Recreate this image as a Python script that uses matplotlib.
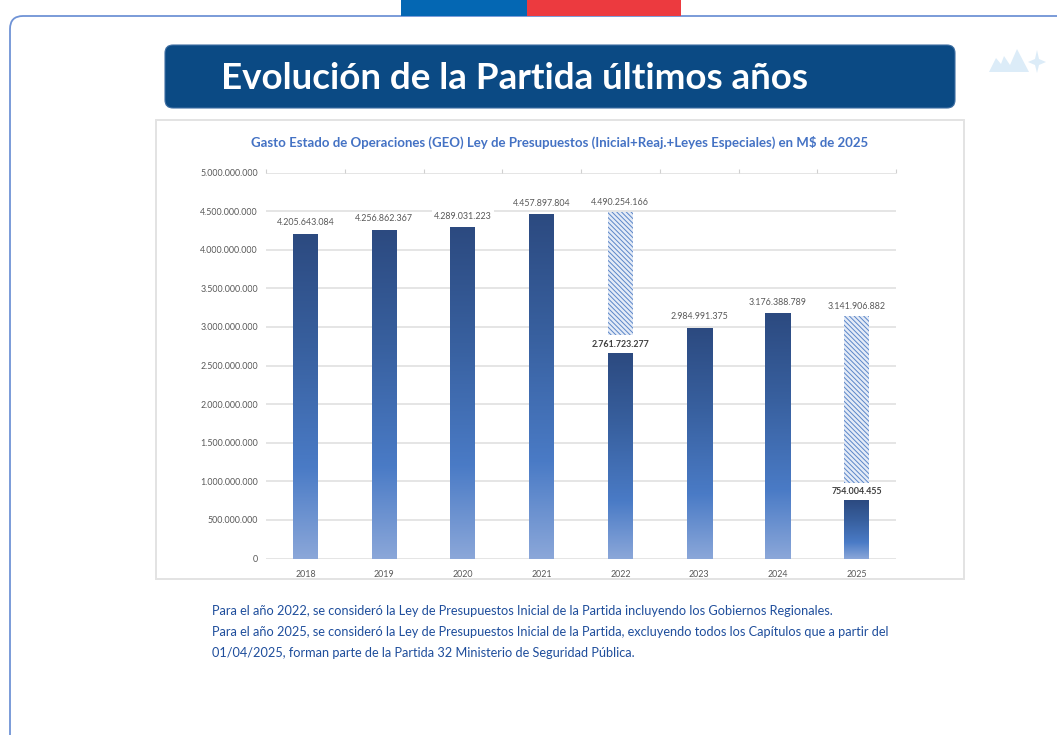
import matplotlib
matplotlib.use('Agg')
import matplotlib.pyplot as plt
import numpy as np
from matplotlib.colors import LinearSegmentedColormap
from matplotlib.patches import FancyBboxPatch, Rectangle, Polygon

plt.rcParams['font.family'] = ['Lato', 'DejaVu Sans']
plt.rcParams['hatch.linewidth'] = 0.7
plt.rcParams['hatch.color'] = '#5b86c8'

W, H = 1057, 735

# Data
years = ['2018', '2019', '2020', '2021', '2022', '2023', '2024', '2025']
solid_values = [4205643084, 4256862367, 4289031223, 4457897804, 2660000000, 2984991375, 3176388789, 754004455]
solid_labels = ['4.205.643.084', '4.256.862.367', '4.289.031.223', '4.457.897.804',
                '2.761.723.277', '2.984.991.375', '3.176.388.789', '754.004.455']
hatch_years = ['2022', '2025']
hatch_bottom = [2895000000, 978000000]
hatch_top = [4490254166, 3141906882]
hatch_labels = ['4.490.254.166', '3.141.906.882']
bold_years = ['2022', '2025']
y_ticks = [0, 500000000, 1000000000, 1500000000, 2000000000, 2500000000,
           3000000000, 3500000000, 4000000000, 4500000000, 5000000000]
y_tick_labels = ['0', '500.000.000', '1.000.000.000', '1.500.000.000', '2.000.000.000', '2.500.000.000',
                 '3.000.000.000', '3.500.000.000', '4.000.000.000', '4.500.000.000', '5.000.000.000']

title = 'Evolución de la Partida últimos años'
chart_title = 'Gasto Estado de Operaciones (GEO) Ley de Presupuestos (Inicial+Reaj.+Leyes Especiales) en M$ de 2025'
notes = ['Para el año 2022, se consideró la Ley de Presupuestos Inicial de la Partida incluyendo los Gobiernos Regionales.',
         'Para el año 2025, se consideró la Ley de Presupuestos Inicial de la Partida, excluyendo todos los Capítulos que a partir del',
         '01/04/2025, forman parte de la Partida 32 Ministerio de Seguridad Pública.']

fig = plt.figure(figsize=(W / 100, H / 100), dpi=100, facecolor='white')

# page layer, in pixels
page = fig.add_axes([0, 0, 1, 1])
page.set_xlim(0, W)
page.set_ylim(H, 0)
page.axis('off')

page.add_patch(FancyBboxPatch((10, 16), 1200, 900, boxstyle='round,pad=0,rounding_size=13',
                              fc='white', ec='#6f93d6', lw=1.3))
page.add_patch(Rectangle((401, 0), 126, 16, fc='#0467b3', ec='none'))
page.add_patch(Rectangle((527, 0), 154, 16, fc='#ec3a3f', ec='none'))
page.add_patch(FancyBboxPatch((165, 45), 790, 63, boxstyle='round,pad=0,rounding_size=8',
                              fc='#0b4a84', ec='#3f6fa3', lw=0.8))
page.text(221, 78, title, color='white', fontsize=26.5, fontweight='bold', va='center', ha='left')

# mountains and star
page.add_patch(Polygon([(989, 72), (996, 58), (1001, 64), (1004, 56), (1010, 65), (1017, 49),
                        (1029, 72)], fc='#dcecf8', ec='none'))
page.add_patch(Polygon([(1037, 50), (1039, 59), (1046, 62), (1039, 65), (1037, 73), (1035, 65),
                        (1028, 62), (1035, 59)], fc='#dcecf8', ec='none'))

page.add_patch(Rectangle((156, 120), 808, 459, fc='white', ec='#e3e3e3', lw=1.4))
page.text(559.5, 142, chart_title, color='#4472c4', fontsize=9.55, fontweight='bold', ha='center', va='center')

for i, line in enumerate(notes):
    page.text(212, 611 + i * 21, line, color='#1f4e9c', fontsize=9.2, ha='left', va='center')

# chart
ax = fig.add_axes([266 / W, 1 - 558.5 / H, 630 / W, 386 / H])
ax.patch.set_alpha(0)
for s in ax.spines.values():
    s.set_visible(False)
ax.tick_params(axis='y', length=0, pad=5.8)
ax.tick_params(axis='x', length=0, pad=8)
ax.grid(axis='y', color='#dedede', lw=1.1, zorder=0)
ax.set_axisbelow(True)

grad = LinearSegmentedColormap.from_list('bar', [(0, '#2c4a80'), (0.35, '#38609f'),
                                                 (0.72, '#4a7bc6'), (1, '#8ba7d9')])
ramp = np.linspace(0, 1, 256).reshape(-1, 1)
width = 25 / 78.75

for i, v in enumerate(solid_values):
    ax.imshow(ramp, extent=(i - width / 2, i + width / 2, 0, v), cmap=grad, aspect='auto', zorder=3)
    bold = years[i] in bold_years
    ax.annotate(solid_labels[i], (i, v), xytext=(0, 6.3 if bold else 8), textcoords='offset points',
                ha='center', va='center', fontsize=6.4, color='#404040' if bold else '#595959',
                fontweight='bold' if bold else 'normal', bbox=dict(fc='white', ec='none', pad=1.5), zorder=5)

for yr, b, t, lab in zip(hatch_years, hatch_bottom, hatch_top, hatch_labels):
    x = years.index(yr)
    ax.bar(x, t - b, width, bottom=b, facecolor='#e4ebf7', lw=0, hatch='\\\\\\\\\\\\\\', zorder=3)
    ax.annotate(lab, (x, t), xytext=(0, 7), textcoords='offset points', ha='center', va='center',
                fontsize=6.4, color='#595959', bbox=dict(fc='white', ec='none', pad=1.5), zorder=5)

ax.set_xlim(-0.5, 7.5)
ax.set_ylim(0, 5000000000)
ax.set_yticks(y_ticks)
ax.set_yticklabels(y_tick_labels, fontsize=6.4, color='#595959')
ax.set_xticks(range(len(years)))
ax.set_xticklabels(years, fontsize=6.4, color='#595959')

# small ticks over the top gridline
ax.vlines(np.arange(-0.5, 8), 5000000000, 5040000000, color='#d0d0d0', lw=0.8, clip_on=False)
ax.set_ylim(0, 5000000000)

fig.savefig('out.png', dpi=100)
